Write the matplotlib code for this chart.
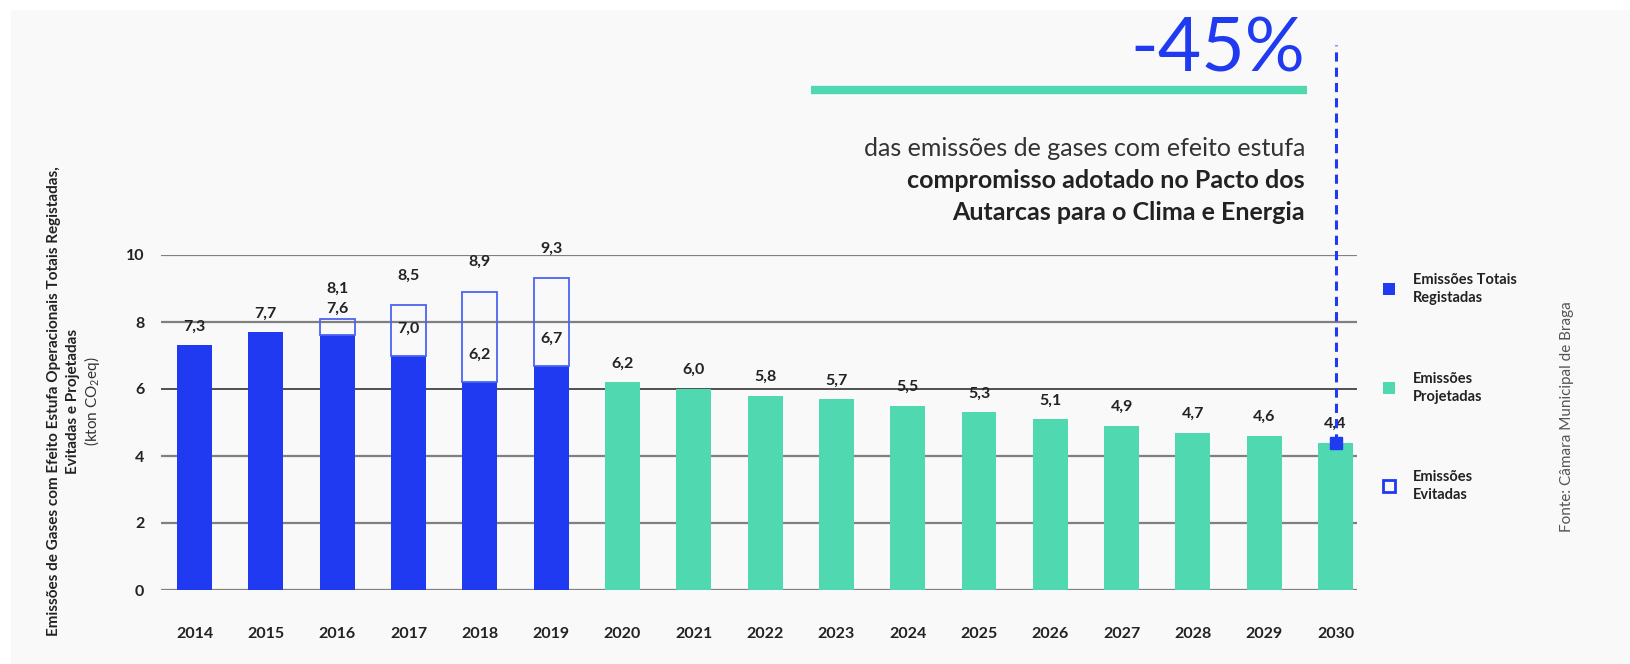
import matplotlib
matplotlib.use("Agg")
import matplotlib.pyplot as plt
from matplotlib.patches import Rectangle
import numpy as np

plt.rcParams["font.family"] = ["Lato", "DejaVu Sans"]
plt.rcParams["mathtext.fontset"] = "custom"
plt.rcParams["mathtext.rm"] = "Lato"

# emissions, kton CO2eq
years = [str(y) for y in range(2014, 2031)]
registered_years = ["2014", "2015", "2016", "2017", "2018", "2019"]
registered = [7.3, 7.7, 7.6, 7.0, 6.2, 6.7]
avoided_years = ["2016", "2017", "2018", "2019"]
total_with_avoided = [8.1, 8.5, 8.9, 9.3]
projected_years = ["2020", "2021", "2022", "2023", "2024", "2025",
                   "2026", "2027", "2028", "2029", "2030"]
projected = [6.2, 6.0, 5.8, 5.7, 5.5, 5.3, 5.1, 4.9, 4.7, 4.6, 4.4]
target_2030 = 4.4
yticks = [0, 2, 4, 6, 8, 10]

BLUE = "#1f3af0"
EDGE = "#4a64f3"
GREEN = "#50d9b1"
DARK = "#222222"

W, H = 1631, 664
fig = plt.figure(figsize=(W / 100, H / 100), dpi=100)
fig.patch.set_facecolor("white")


def fx(px):
    return px / W


def fy(py):
    return 1 - py / H


# light panel behind everything
fig.patches.append(Rectangle((fx(11), 0), 1 - fx(11), fy(10), transform=fig.transFigure,
                             facecolor="#f9f9f9", edgecolor="none", zorder=-10))

ax = fig.add_axes([fx(161), fy(590), fx(1357) - fx(161), (590 - 255) / H])
ax.set_facecolor("none")
pos = {y: i for i, y in enumerate(years)}

for t in yticks:
    ax.axhline(t, color=DARK if t == 6 else "#808080", lw=1.1 if t == 6 else 1.6, zorder=0)

bw = 0.49
xr = [pos[y] for y in registered_years]
ax.bar(xr, registered, width=bw, color=BLUE, zorder=2)
xa = [pos[y] for y in avoided_years]
reg_a = [registered[registered_years.index(y)] for y in avoided_years]
ax.bar(xa, np.array(total_with_avoided) - np.array(reg_a), bottom=reg_a, width=bw,
       facecolor="none", edgecolor=EDGE, lw=1.3, zorder=3)
xp = [pos[y] for y in projected_years]
ax.bar(xp, projected, width=bw, color=GREEN, zorder=2)


def fmt(v):
    return f"{v:.1f}".replace(".", ",")


lab = dict(ha="center", va="center", fontsize=11.5, fontweight="bold", color=DARK,
           textcoords="offset points", annotation_clip=False, zorder=5)
for x, v, y in zip(xr, registered, registered_years):
    off = 19.5 if y in avoided_years else 13.5
    ax.annotate(fmt(v), (x, v), xytext=(0, off), **lab)
for x, v in zip(xa, total_with_avoided):
    ax.annotate(fmt(v), (x, v), xytext=(0, 21.5), **lab)
for x, v in zip(xp, projected):
    ax.annotate(fmt(v), (x, v), xytext=(0, 13.5), **lab)

# 2030 target marker with dashed guide up to the headline
x30 = pos["2030"]
ytop = 10 * (590 - 45) / (590 - 255)
ax.plot([x30, x30], [target_2030, ytop], ls=(0, (3, 2)), color=BLUE, lw=2.2,
        clip_on=False, zorder=6)
ax.plot([x30], [target_2030], marker="s", ms=9, color=BLUE, clip_on=False, zorder=7)

ax.set_xlim(-0.47, 16.3)
ax.set_ylim(0, 10)
ax.set_yticks(yticks)
ax.set_xticks(range(len(years)), years)
for s in ax.spines.values():
    s.set_visible(False)
ax.tick_params(axis="both", length=0, labelsize=11.5, labelcolor=DARK)
ax.tick_params(axis="x", pad=27)
ax.tick_params(axis="y", pad=12)
for t in ax.get_xticklabels() + ax.get_yticklabels():
    t.set_fontweight("bold")

# y-axis title
fig.text(fx(54), fy(401), "Emissões de Gases com Efeito Estufa Operacionais Totais Registadas,",
         rotation=90, ha="center", va="center", fontsize=11, fontweight="bold", color=DARK)
fig.text(fx(73), fy(401), "Evitadas e Projetadas", rotation=90, ha="center", va="center",
         fontsize=11, fontweight="bold", color=DARK)
fig.text(fx(92), fy(401), r"(kton CO$_\mathregular{2}$eq)", rotation=90, ha="center",
         va="center", fontsize=11, color="#333333")

# headline
fig.text(fx(1305), fy(50), "-45%", ha="right", va="center", fontsize=54,
         color=BLUE)
fig.add_artist(plt.Line2D([fx(811), fx(1307)], [fy(90), fy(90)], color=GREEN, lw=6,
                          solid_capstyle="butt", transform=fig.transFigure))
fig.text(fx(1305), fy(148), "das emissões de gases com efeito estufa", ha="right",
         va="center", fontsize=18, color="#333333")
fig.text(fx(1305), fy(180), "compromisso adotado no Pacto dos", ha="right", va="center",
         fontsize=18, fontweight="bold", color=DARK)
fig.text(fx(1305), fy(212), "Autarcas para o Clima e Energia", ha="right", va="center",
         fontsize=18, fontweight="bold", color=DARK)

# legend
legend_items = [("Emissões Totais\nRegistadas", BLUE, BLUE, 289),
                ("Emissões\nProjetadas", GREEN, GREEN, 388),
                ("Emissões\nEvitadas", "none", BLUE, 486)]
for text, face, edge, py in legend_items:
    fig.add_artist(plt.Line2D([fx(1389)], [fy(py)], marker="s", ms=8, ls="none",
                              markerfacecolor=face, markeredgecolor=edge,
                              markeredgewidth=2 if face == "none" else 0,
                              transform=fig.transFigure))
    fig.text(fx(1413), fy(py), text, ha="left", va="center", fontsize=10.5,
             fontweight="bold", color=DARK, linespacing=1.45)

fig.text(fx(1567), fy(417), "Fonte: Câmara Municipal de Braga", rotation=90, ha="center",
         va="center", fontsize=11, color="#555555")

fig.savefig("out.png", dpi=100, facecolor=fig.get_facecolor())
